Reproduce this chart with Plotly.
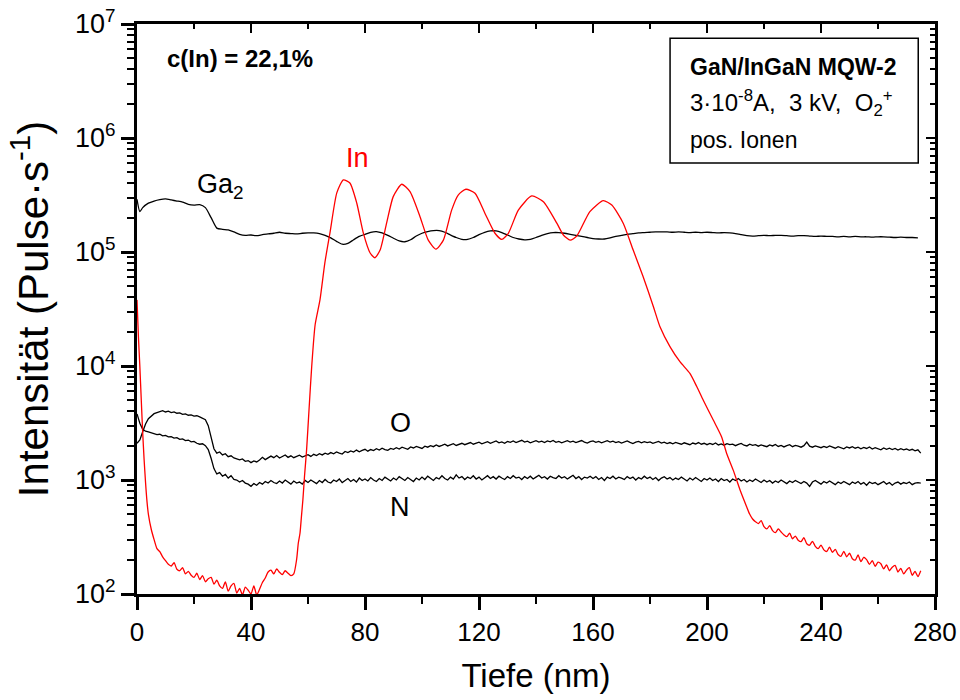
import plotly.graph_objects as go

# ---------------- data ----------------
# Ga2 signal (counts/s) vs depth (nm)
ga_depth = [0, 1] + list(range(2, 276, 2))
ga_counts = [
    290000, 226000,
    245000, 268000, 280000, 288000, 292000, 286000, 280000, 274000, 262000, 258000,
    260000, 245000, 200000, 162000, 158000, 156000, 150000, 143000, 140000, 141000,
    139000, 142000, 144000, 146000, 149000, 146000, 145000, 144000, 146000, 147000,
    147000, 145000, 140000, 133000, 124000, 117000, 119000, 128000, 137000, 143000,
    149000, 151000, 147000, 140000, 132000, 125000, 123000, 128000, 138000, 146000,
    151000, 154000, 154000, 149000, 141000, 134000, 129000, 129000, 134000, 142000,
    149000, 153000, 153000, 148000, 141000, 134000, 130000, 128000, 129000, 134000,
    140000, 145000, 148000, 148000, 146000, 143000, 140000, 137000, 134000, 131000,
    130000, 130000, 133000, 137000, 140000, 143000, 145000, 147000, 148000, 149000,
    150000, 150000, 150000, 149000, 150000, 149000, 148000, 149000, 148000, 149000,
    148000, 147000, 148000, 147000, 145000, 142000, 139000, 138000, 139000, 140000,
    139000, 140000, 140000, 139000, 138000, 139000, 139000, 138000, 137000, 138000,
    137000, 137000, 136000, 137000, 136000, 137000, 136000, 136000, 135000, 136000,
    136000, 135000, 134000, 135000, 134000, 134000, 133000,
]

# O and N signals, sampled every 1 nm from 0 to 275 nm
on_depth = list(range(0, 276))
o_counts = [
    2100, 2250, 2650, 3100, 3450, 3650, 3820, 3900, 3980, 4050,
    3950, 4020, 3900, 3960, 3850, 3880, 3760, 3800, 3700, 3720,
    3640, 3660, 3580, 3500, 3380, 3000, 2350, 1880, 1720, 1760,
    1660, 1700, 1600, 1630, 1560, 1540, 1500, 1530, 1460, 1480,
    1420, 1470, 1440, 1500, 1580, 1510, 1560, 1620, 1570, 1640,
    1560, 1610, 1660, 1580, 1630, 1570, 1610, 1650, 1590, 1630,
    1670, 1610, 1680, 1640, 1700, 1660, 1720, 1680, 1740, 1700,
    1760, 1720, 1690, 1780, 1740, 1800, 1760, 1830, 1770, 1820,
    1860, 1790, 1850, 1810, 1880, 1830, 1900, 1850, 1820, 1890,
    1860, 1920, 1870, 1940, 1900, 1860, 1950, 1910, 1970, 1930,
    1890, 1980, 1940, 2000, 1960, 2030, 1970, 2010, 2060, 1990,
    2040, 2080, 2010, 2060, 2100, 2040, 2090, 2130, 2060, 2110,
    2150, 2080, 2120, 2170, 2100, 2140, 2200, 2120, 2160, 2100,
    2180, 2140, 2200, 2130, 2170, 2230, 2150, 2190, 2120, 2180,
    2210, 2150, 2190, 2130, 2200, 2160, 2220, 2140, 2180, 2120,
    2170, 2210, 2150, 2190, 2130, 2180, 2220, 2150, 2110, 2170,
    2200, 2140, 2180, 2120, 2160, 2210, 2150, 2190, 2130, 2170,
    2110, 2160, 2200, 2140, 2090, 2150, 2180, 2120, 2170, 2130,
    2160, 2100, 2140, 2180, 2110, 2150, 2090, 2130, 2080, 2140,
    2100, 2060, 2120, 2080, 2040, 2110, 2070, 2130, 2060, 2100,
    2040, 2090, 2050, 2110, 2030, 2070, 2020, 2080, 2040, 2060,
    2000, 2050, 2090, 2020, 1990, 2060, 2010, 2040, 1980, 2030,
    2000, 1960, 2030, 1990, 2050, 1970, 2010, 1950, 2000, 2040,
    1960, 2010, 1980, 1940, 2000, 2150, 1980, 1940, 1990, 1950,
    1920, 1970, 1930, 1990, 1940, 1900, 1960, 1920, 1880, 1950,
    1910, 1960, 1900, 1940, 1880, 1930, 1890, 1950, 1870, 1920,
    1880, 1840, 1910, 1860, 1900, 1850, 1890, 1830, 1880, 1840,
    1870, 1820, 1860, 1800, 1840, 1720,
]
n_counts = [
    3800, 3150, 2780, 2680, 2640, 2580, 2560, 2500, 2520, 2440,
    2460, 2390, 2400, 2330, 2350, 2270, 2290, 2220, 2240, 2160,
    2180, 2100, 2060, 2080, 2000, 1850, 1550, 1260, 1130, 1160,
    1080, 1120, 1040, 1090, 1010, 1000, 960, 990, 940, 920,
    880, 930, 900, 950, 920, 970, 940, 990, 950, 930,
    980, 940, 1000, 950, 920, 980, 940, 960, 920, 990,
    950, 1000, 960, 930, 990, 950, 1010, 960, 940, 1000,
    970, 1020, 950, 990, 1030, 970, 1010, 960, 1040, 990,
    1020, 980, 1050, 1000, 970, 1030, 990, 1060, 1010, 980,
    1040, 1000, 1070, 1020, 990, 1050, 1010, 970, 1040, 1000,
    1060, 1010, 1080, 1030, 990, 1050, 1020, 1090, 1030, 1000,
    1060, 1020, 1110, 1040, 1070, 1010, 1060, 1030, 1090, 1020,
    1060, 1000, 1050, 1090, 1030, 1070, 1020, 1080, 1040, 1010,
    1070, 1030, 1090, 1040, 1060, 1010, 1070, 1030, 1080, 1020,
    1060, 1100, 1040, 1070, 1020, 1080, 1050, 1030, 1090, 1040,
    1070, 1020, 1060, 1100, 1030, 1070, 1010, 1060, 1040, 1080,
    1030, 1070, 1010, 1050, 990, 1060, 1030, 1080, 1020, 1060,
    1040, 1010, 1070, 1030, 1060, 1000, 1050, 1020, 1080, 1030,
    1060, 1010, 1050, 990, 1040, 1070, 1020, 1050, 1000, 1040,
    1010, 1060, 1020, 980, 1040, 1000, 1050, 1010, 970, 1030,
    1000, 1040, 990, 1020, 970, 1030, 990, 1010, 960, 1020,
    990, 1030, 980, 1010, 960, 1000, 970, 1020, 980, 950,
    1000, 960, 990, 940, 980, 950, 1000, 960, 930, 980,
    950, 990, 960, 930, 970, 940, 880, 960, 990, 950,
    920, 970, 940, 980, 950, 910, 960, 930, 970, 940,
    910, 960, 930, 970, 920, 950, 900, 960, 930, 950,
    910, 940, 970, 920, 950, 900, 940, 960, 920, 950,
    930, 960, 910, 940, 950, 940,
]

# In signal: surface transient, cap-layer floor, five quantum wells, decay into buffer
in_depth = (
    [0, 0.5, 1, 1.5, 2, 2.5, 3, 3.5, 4, 5, 6, 7]
    + list(range(8, 56))
    + [56, 56.6, 57.2, 57.7, 58.2, 58.8, 59.5, 60.4, 61.3, 62.5, 64.2, 65.9,
       67.7, 70.1, 72.4, 74.7, 77.1, 79.4, 81.8, 83.5, 85.3, 87.6, 89.9, 92.9,
       95.8, 99.3, 102.2, 104.9, 107.5, 110.4, 112.7, 115.4, 118.6, 122.1, 125.6,
       128.0, 130.3, 133.8, 138.5, 142.6, 147.3, 149.6, 152.0, 154.3, 158.9,
       163.6, 166.6, 170.6, 174.1, 177.6, 181.2, 183.5, 187.0, 190.5, 194.0,
       196.4, 198.7, 202.2, 205.1, 206.9, 209.2, 211.6, 213.9]
    + list(range(215, 276))
)
in_counts = (
    [38000, 18000, 9900, 5000, 2600, 1500, 950, 650, 500, 370, 300, 250]
    + [235, 212, 196, 182, 176, 188, 165, 160, 170, 150,
       158, 146, 140, 152, 134, 145, 128, 136, 140, 122,
       132, 118, 112, 128, 106, 118, 124, 102, 112, 98,
       115, 108, 100, 118, 98, 110, 126, 138, 156, 162,
       150, 166, 155, 148, 160, 152, 145, 150]
    + [200, 280, 343, 480, 668, 1100, 1830, 4300, 9900, 23000, 38000, 80000,
       147000, 330000, 429000, 403000, 269000, 147000, 98000, 89000, 104000,
       180000, 306000, 393000, 338000, 204000, 127000, 106000, 127000, 233000,
       316000, 355000, 327000, 218000, 146000, 129000, 146000, 233000, 310000,
       276000, 179000, 141000, 127000, 138000, 226000, 282000, 258000, 179000,
       104000, 60700, 33100, 22100, 14800, 10900, 8600, 6600, 5000, 3360, 2400,
       1710, 1220, 817, 583]
    + [500, 455, 430, 415, 440, 390, 372, 398, 360, 345,
       372, 350, 330, 318, 342, 305, 322, 296, 288, 312,
       276, 268, 290, 262, 250, 268, 244, 236, 258, 232,
       246, 222, 214, 236, 212, 228, 204, 198, 220, 192,
       210, 200, 182, 196, 175, 190, 184, 166, 180, 160,
       172, 178, 156, 168, 150, 162, 170, 146, 158, 142, 160]
)

x_ticks = [0, 40, 80, 120, 160, 200, 240, 280]
y_ticks = [1e2, 1e3, 1e4, 1e5, 1e6, 1e7]
y_ticktext = ["10<sup>2</sup>", "10<sup>3</sup>", "10<sup>4</sup>",
              "10<sup>5</sup>", "10<sup>6</sup>", "10<sup>7</sup>"]

FONT = "Liberation Sans, Arial, sans-serif"

fig = go.Figure()
line_w = 1.3
fig.add_trace(go.Scatter(x=ga_depth, y=ga_counts, mode="lines",
                         line=dict(color="black", width=line_w, shape="spline", smoothing=0.6),
                         name="Ga2"))
fig.add_trace(go.Scatter(x=on_depth, y=o_counts, mode="lines",
                         line=dict(color="black", width=line_w), name="O"))
fig.add_trace(go.Scatter(x=on_depth, y=n_counts, mode="lines",
                         line=dict(color="black", width=line_w), name="N"))
fig.add_trace(go.Scatter(x=in_depth, y=in_counts, mode="lines",
                         line=dict(color="#ff0000", width=line_w, shape="spline", smoothing=0.6),
                         name="In"))
# helper trace so the mirrored (inner-tick) axes are drawn
fig.add_trace(go.Scatter(x=[0], y=[1000], xaxis="x2", yaxis="y2", mode="markers",
                         marker=dict(opacity=0), showlegend=False, hoverinfo="skip"))

minor_log = [m * 10 ** e for e in range(2, 7) for m in range(2, 10)]

fig.update_layout(
    width=960, height=700,
    margin=dict(l=137, r=25, t=24, b=106, autoexpand=False),
    paper_bgcolor="white", plot_bgcolor="white",
    showlegend=False,
    font=dict(family=FONT, color="black"),
    xaxis=dict(
        range=[0, 280], tickmode="array", tickvals=x_ticks,
        ticks="outside", ticklen=13, tickwidth=2.5, tickcolor="black",
        minor=dict(dtick=20, tick0=0, ticks="outside", ticklen=7, tickwidth=2, tickcolor="black"),
        showline=True, linewidth=3, linecolor="black", mirror=True,
        showgrid=False, zeroline=False, automargin=False,
        tickfont=dict(family=FONT, size=26),
        title=dict(text="Tiefe (nm)", font=dict(family=FONT, size=33), standoff=18),
    ),
    yaxis=dict(
        type="log", range=[2, 7], tickmode="array", tickvals=y_ticks, ticktext=y_ticktext,
        ticks="outside", ticklen=13, tickwidth=2.5, tickcolor="black",
        minor=dict(tickmode="array", tickvals=minor_log, ticks="outside",
                   ticklen=7, tickwidth=2, tickcolor="black"),
        showline=True, linewidth=3, linecolor="black", mirror=True,
        showgrid=False, zeroline=False, automargin=False,
        tickfont=dict(family=FONT, size=27),
        title=dict(text="Intensität (Pulse·s<sup>-1</sup>)", font=dict(family=FONT, size=42), standoff=14),
    ),
    xaxis2=dict(
        overlaying="x", side="top", anchor="y", range=[0, 280],
        tickmode="array", tickvals=x_ticks, ticks="inside", ticklen=9, tickwidth=2,
        tickcolor="black", minor=dict(dtick=20, tick0=0, ticks="inside", ticklen=5, tickwidth=1.5),
        showticklabels=False, showline=False, showgrid=False, zeroline=False,
    ),
    yaxis2=dict(
        overlaying="y", side="right", anchor="x", type="log", range=[2, 7],
        tickmode="array", tickvals=y_ticks,
        ticks="inside", ticklen=9, tickwidth=2, tickcolor="black",
        minor=dict(tickmode="array", tickvals=minor_log, ticks="inside", ticklen=5, tickwidth=1.5),
        showticklabels=False, showline=False, showgrid=False, zeroline=False,
    ),
)

# info box
fig.add_shape(type="rect", xref="paper", yref="paper", x0=0.668, x1=0.979, y0=0.756, y1=0.975,
              line=dict(color="black", width=1.5), fillcolor="white")

notes = [
    dict(text="<b>c(In) = 22,1%</b>", x=0.035, y=0.940, size=24, color="black"),
    dict(text="<b>GaN/InGaN MQW-2</b>", x=0.690, y=0.925, size=23, color="black"),
    dict(text="3·10<sup>-8</sup>A,  3 kV,  O<sub>2</sub><sup>+</sup>", x=0.690, y=0.861, size=24, color="black"),
    dict(text="pos. Ionen", x=0.690, y=0.796, size=23, color="black"),
    dict(text="Ga<sub>2</sub>", x=0.0727, y=0.715, size=27, color="black"),
    dict(text="In", x=0.260, y=0.765, size=27, color="#ff0000"),
]
for n in notes:
    fig.add_annotation(text=n["text"], x=n["x"], y=n["y"], xref="paper", yref="paper",
                       xanchor="left", yanchor="middle", showarrow=False,
                       font=dict(family=FONT, size=n["size"], color=n["color"]))
for label, yy in [("O", 0.300), ("N", 0.1526)]:
    fig.add_annotation(text=label, x=0.3296, y=yy, xref="paper", yref="paper",
                       xanchor="center", yanchor="middle", showarrow=False,
                       font=dict(family=FONT, size=27, color="black"))

fig.write_html("out.html")
